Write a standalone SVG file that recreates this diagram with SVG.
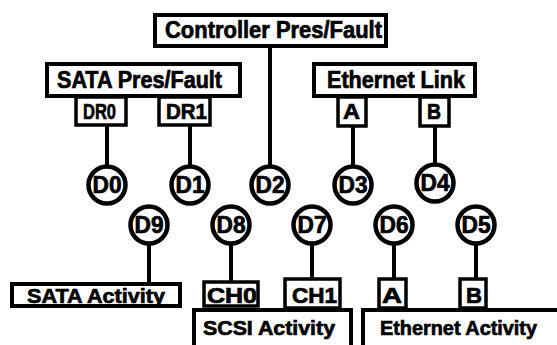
<svg xmlns="http://www.w3.org/2000/svg" width="557" height="345" viewBox="0 0 557 345">
<style>
.bx{fill:#fff;stroke:#000;stroke-width:4}
.sb{fill:#fff;stroke:#000;stroke-width:3.5}
.ln{stroke:#000;stroke-width:4;fill:none}
.cc{fill:#fff;stroke:#000;stroke-width:4.5}
text{font-family:"Liberation Sans",Arial,sans-serif;font-weight:bold;fill:#000;stroke:#000;stroke-width:0.7}
.t{font-size:23px}
.s{font-size:22px}
.m{font-size:21px}
.d{font-size:23px;text-anchor:middle}
</style>
<rect width="557" height="345" fill="#fff"/>
<g id="connectors">
<line class="ln" x1="270" y1="46" x2="270" y2="166"/>
<line class="ln" x1="107" y1="125" x2="107" y2="166"/>
<line class="ln" x1="190" y1="125" x2="190" y2="166"/>
<line class="ln" x1="353" y1="126" x2="353" y2="166"/>
<line class="ln" x1="435" y1="126" x2="435" y2="166"/>
<line class="ln" x1="149" y1="243" x2="149" y2="284"/>
<line class="ln" x1="231" y1="243" x2="231" y2="282"/>
<line class="ln" x1="312" y1="243" x2="312" y2="279"/>
<line class="ln" x1="394" y1="243" x2="394" y2="279"/>
<line class="ln" x1="476" y1="243" x2="476" y2="279"/>
</g>
<g id="controller">
<rect class="bx" x="155" y="15" width="231" height="31"/>
<text class="t" x="165" y="38" textLength="217" lengthAdjust="spacingAndGlyphs">Controller Pres/Fault</text>
</g>
<g id="sata-pres">
<rect class="bx" x="47" y="64" width="193" height="32"/>
<text class="t" x="57" y="88" textLength="165" lengthAdjust="spacingAndGlyphs">SATA Pres/Fault</text>
</g>
<g id="dr0">
<rect class="sb" x="76" y="97" width="50" height="28"/>
<text class="s" x="83" y="119" textLength="33" lengthAdjust="spacingAndGlyphs">DR0</text>
</g>
<g id="dr1">
<rect class="sb" x="159" y="97" width="51" height="28"/>
<text class="s" x="166" y="119" textLength="41" lengthAdjust="spacingAndGlyphs">DR1</text>
</g>
<g id="eth-link">
<rect class="bx" x="314" y="64" width="161" height="32"/>
<text class="t" x="327" y="88" textLength="138" lengthAdjust="spacingAndGlyphs">Ethernet Link</text>
</g>
<g id="link-a">
<rect class="sb" x="338" y="97" width="28" height="29"/>
<text class="s" x="343" y="119" textLength="17" lengthAdjust="spacingAndGlyphs">A</text>
</g>
<g id="link-b">
<rect class="sb" x="420" y="97" width="29" height="29"/>
<text class="s" x="427" y="119" textLength="14" lengthAdjust="spacingAndGlyphs">B</text>
</g>
<g id="D0"><circle class="cc" cx="107" cy="185" r="18.5"/><text class="d" x="107" y="193" textLength="29" lengthAdjust="spacingAndGlyphs">D0</text></g>
<g id="D1"><circle class="cc" cx="190" cy="185" r="18.5"/><text class="d" x="190" y="193" textLength="29" lengthAdjust="spacingAndGlyphs">D1</text></g>
<g id="D2"><circle class="cc" cx="270" cy="185" r="18.5"/><text class="d" x="270" y="193" textLength="29" lengthAdjust="spacingAndGlyphs">D2</text></g>
<g id="D3"><circle class="cc" cx="353" cy="185" r="18.5"/><text class="d" x="353" y="193" textLength="29" lengthAdjust="spacingAndGlyphs">D3</text></g>
<g id="D4"><circle class="cc" cx="435" cy="183" r="18.5"/><text class="d" x="435" y="191" textLength="29" lengthAdjust="spacingAndGlyphs">D4</text></g>
<g id="D9"><circle class="cc" cx="149" cy="225" r="18.5"/><text class="d" x="149" y="233" textLength="29" lengthAdjust="spacingAndGlyphs">D9</text></g>
<g id="D8"><circle class="cc" cx="231" cy="225" r="18.5"/><text class="d" x="231" y="233" textLength="29" lengthAdjust="spacingAndGlyphs">D8</text></g>
<g id="D7"><circle class="cc" cx="312" cy="225" r="18.5"/><text class="d" x="312" y="233" textLength="29" lengthAdjust="spacingAndGlyphs">D7</text></g>
<g id="D6"><circle class="cc" cx="394" cy="225" r="18.5"/><text class="d" x="394" y="233" textLength="29" lengthAdjust="spacingAndGlyphs">D6</text></g>
<g id="D5"><circle class="cc" cx="476" cy="225" r="18.5"/><text class="d" x="476" y="233" textLength="29" lengthAdjust="spacingAndGlyphs">D5</text></g>
<g id="sata-activity">
<rect class="bx" x="12" y="284" width="168" height="22"/>
<text class="m" x="27" y="303" textLength="138" lengthAdjust="spacingAndGlyphs">SATA Activity</text>
</g>
<g id="scsi-activity">
<path class="ln" d="M194 350 V310 H351 V350" fill="#fff"/>
<text class="m" x="203" y="335" textLength="132" lengthAdjust="spacingAndGlyphs">SCSI Activity</text>
</g>
<g id="eth-activity">
<path class="ln" d="M363 350 V310 H560" fill="#fff"/>
<text class="m" x="380" y="335" textLength="157" lengthAdjust="spacingAndGlyphs">Ethernet Activity</text>
</g>
<g id="ch0">
<rect class="sb" x="204" y="282" width="54" height="24"/>
<text class="s" x="207" y="303" textLength="50" lengthAdjust="spacingAndGlyphs">CH0</text>
</g>
<g id="ch1">
<rect class="sb" x="285" y="279" width="55" height="29"/>
<text class="s" x="292" y="303" textLength="45" lengthAdjust="spacingAndGlyphs">CH1</text>
</g>
<g id="act-a">
<rect class="sb" x="379" y="279" width="27" height="29"/>
<text class="s" x="382" y="303" textLength="20" lengthAdjust="spacingAndGlyphs">A</text>
</g>
<g id="act-b">
<rect class="sb" x="460" y="279" width="26" height="29"/>
<text class="s" x="466" y="303" textLength="16" lengthAdjust="spacingAndGlyphs">B</text>
</g>
</svg>
